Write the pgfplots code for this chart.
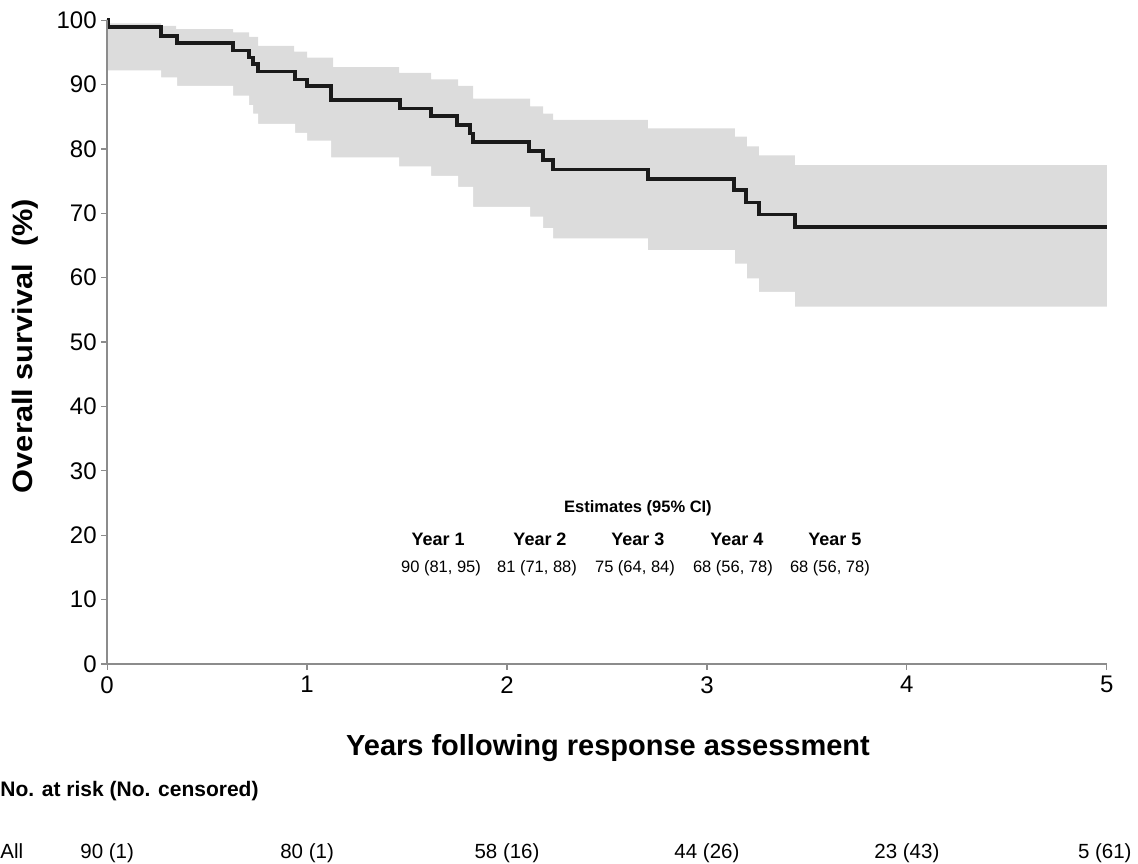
\documentclass[border=0pt]{standalone}
\usepackage{fontspec}
\setmainfont{Liberation Sans}
\usepackage{graphicx}
\usepackage{pgfplots}
\usepackage{pgfplotstable}
\pgfplotsset{compat=1.18}
\definecolor{band}{HTML}{DCDCDC}
\definecolor{axgray}{HTML}{8C8C8C}
\definecolor{curve}{HTML}{1A1A1A}

\pgfplotstableread{
t s
0 100
0.005 98.9
0.27 97.5
0.35 96.5
0.63 95.3
0.71 94.2
0.73 93.2
0.755 92.0
0.94 90.8
1.0 89.8
1.12 87.6
1.465 86.3
1.62 85.1
1.75 83.7
1.815 82.4
1.83 81.1
2.11 79.7
2.18 78.3
2.23 76.8
2.705 75.3
3.135 73.6
3.195 71.7
3.26 69.8
3.44 67.9
5.0 67.9
}\tabsurv

\pgfplotstableread{
t u
0 99.5
0.27 99.1
0.345 98.6
0.63 98.1
0.71 97.4
0.755 96.0
0.935 95.1
1.0 94.2
1.13 92.7
1.46 91.8
1.62 90.8
1.755 89.8
1.83 87.8
2.115 86.6
2.18 85.5
2.23 84.5
2.705 83.2
3.14 81.9
3.2 80.4
3.26 79.0
3.44 77.5
5.0 77.5
}\tabupper

\pgfplotstableread{
t l
0 92.2
0.27 91.1
0.35 89.8
0.63 88.3
0.71 86.8
0.73 85.5
0.755 83.9
0.94 82.5
1.0 81.3
1.12 78.7
1.46 77.3
1.62 75.8
1.755 74.1
1.83 71.0
2.115 69.5
2.18 67.7
2.23 66.1
2.705 64.3
3.14 62.2
3.2 59.9
3.26 57.8
3.44 55.5
5.0 55.5
}\tablower

\begin{document}
\begin{tikzpicture}
\draw[white] (0,0) rectangle (1138pt,863pt);
\begin{axis}[
  at={(107pt,199pt)}, anchor=south west,
  scale only axis, width=1000pt, height=644pt,
  xmin=0, xmax=5, ymin=0, ymax=100,
  axis lines=left, axis on top,
  axis line style={-, draw=axgray, line width=1.6pt},
  tick style={draw=axgray, line width=1.2pt},
  tick align=outside, major tick length=6pt,
  xtick={0,1,2,3,4,5}, ytick={0,10,...,100},
  /pgf/number format/assume math mode=true,
  tick label style={font=\fontsize{24}{27}\selectfont},
  xticklabel style={yshift=-3pt},
  yticklabel style={xshift=-1pt},
  xlabel={Years following response assessment},
  xlabel style={font=\bfseries\fontsize{29}{33}\selectfont, at={(axis description cs:0.501,-0.130)}, anchor=center},
  ylabel={\scalebox{1.1}[1]{Overall survival\ \ (\%)}},
  ylabel style={font=\bfseries\fontsize{28}{32}\selectfont, at={(axis description cs:-0.082,0.494)}, anchor=center},
  clip=false,
]
\addplot[const plot, fill=band, draw=none, forget plot] table[x=t, y=u] {\tabupper} \closedcycle;
\addplot[const plot, fill=white, draw=none, forget plot] table[x=t, y=l] {\tablower} \closedcycle;
\addplot[const plot, draw=curve, line width=3.6pt, line join=miter, mark=none] table[x=t, y=s] {\tabsurv};

\node[font=\bfseries\fontsize{16.5}{18}\selectfont] at (axis cs:2.655,24.2) {Estimates (95\% CI)};
\node[font=\bfseries\fontsize{18}{20}\selectfont] at (axis cs:1.655,19.4) {Year 1};
\node[font=\bfseries\fontsize{18}{20}\selectfont] at (axis cs:2.165,19.4) {Year 2};
\node[font=\bfseries\fontsize{18}{20}\selectfont] at (axis cs:2.655,19.4) {Year 3};
\node[font=\bfseries\fontsize{18}{20}\selectfont] at (axis cs:3.15,19.4) {Year 4};
\node[font=\bfseries\fontsize{18}{20}\selectfont] at (axis cs:3.64,19.4) {Year 5};
\node[font=\fontsize{16.5}{18}\selectfont] at (axis cs:1.67,14.9) {90 (81, 95)};
\node[font=\fontsize{16.5}{18}\selectfont] at (axis cs:2.15,14.9) {81 (71, 88)};
\node[font=\fontsize{16.5}{18}\selectfont] at (axis cs:2.64,14.9) {75 (64, 84)};
\node[font=\fontsize{16.5}{18}\selectfont] at (axis cs:3.13,14.9) {68 (56, 78)};
\node[font=\fontsize{16.5}{18}\selectfont] at (axis cs:3.615,14.9) {68 (56, 78)};
\end{axis}
\node[anchor=base west, inner sep=0pt, font=\bfseries\fontsize{21}{24}\selectfont] at (0pt,66pt) {No. at risk (No. censored)};
\node[anchor=base west, inner sep=0pt, font=\fontsize{20.5}{24}\selectfont] at (0pt,4.5pt) {All};
\node[anchor=base, inner sep=0pt, font=\fontsize{20.5}{24}\selectfont] at (107pt,4.5pt) {90 (1)};
\node[anchor=base, inner sep=0pt, font=\fontsize{20.5}{24}\selectfont] at (307pt,4.5pt) {80 (1)};
\node[anchor=base, inner sep=0pt, font=\fontsize{20.5}{24}\selectfont] at (507pt,4.5pt) {58 (16)};
\node[anchor=base, inner sep=0pt, font=\fontsize{20.5}{24}\selectfont] at (707pt,4.5pt) {44 (26)};
\node[anchor=base, inner sep=0pt, font=\fontsize{20.5}{24}\selectfont] at (907pt,4.5pt) {23 (43)};
\node[anchor=base, inner sep=0pt, font=\fontsize{20.5}{24}\selectfont] at (1105pt,4.5pt) {5 (61)};
\end{tikzpicture}
\end{document}
